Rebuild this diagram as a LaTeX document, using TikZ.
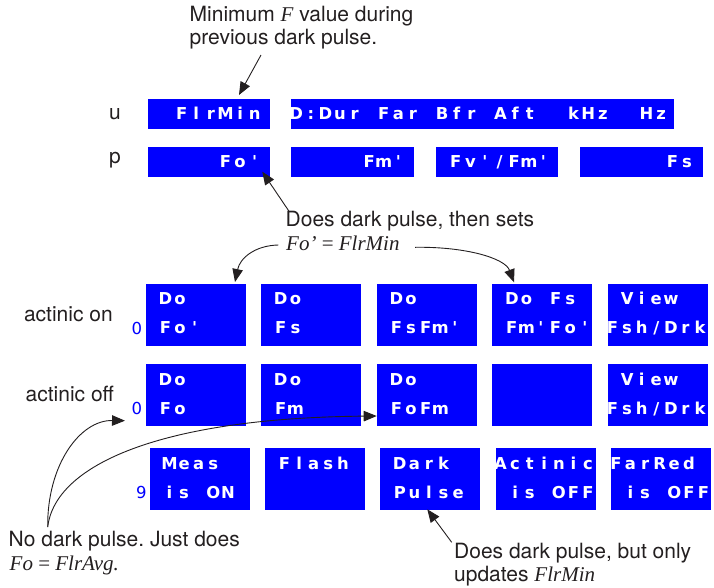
\documentclass[tikz,border=0pt]{standalone}
\usepackage{fontspec}
\setmainfont{TeX Gyre Heros}
\newfontfamily\lcdfam{DejaVu Sans}
\newfontfamily\serifit{Liberation Serif}
\usetikzlibrary{arrows.meta}
\definecolor{lcdblue}{RGB}{0,0,255}
\definecolor{ink}{RGB}{35,31,32}
\newlength\lcdcellw
\setlength\lcdcellw{14.6pt}
\ExplSyntaxOn
\NewDocumentCommand\lcd{m}{
  \str_map_inline:nn {#1}
    { \str_if_eq:nnTF {##1} {_}
        { \hbox_to_wd:nn {\lcdcellw} { } }
        { \hbox_to_wd:nn {\lcdcellw} { \hss ##1 \hss } } }
}
\ExplSyntaxOff
\frenchspacing
\newcommand\lcdfont{\lcdfam\bfseries\fontsize{16.4}{16.4}\selectfont}
\tikzset{
 lcdbox/.style={fill=lcdblue, draw=none, anchor=north west, inner sep=0pt, minimum height=62pt, minimum width=100pt},
 lcdtxt/.style={anchor=base west, inner sep=0pt, text=white, font=\lcdfont},
 ann/.style={anchor=base west, inner sep=0pt, text=ink, font=\fontsize{21}{25}\selectfont},
 digit/.style={anchor=base west, inner sep=0pt, text=lcdblue, font=\lcdfam\fontsize{16.5}{16.5}\selectfont},
 arr/.style={draw=ink, line width=0.9pt, -{Triangle[length=13pt,width=10.5pt]}},
}
\newcommand\rowbox[5]{%
  \node[lcdbox] (#1) at (#2,#3) {};
  \node[lcdtxt] (#1a) at ([shift={(-2.3pt,-21pt)}]#1.north west) {\lcd{#4}};
  \node[lcdtxt] (#1b) at ([shift={(-2.3pt,-50.5pt)}]#1.north west) {\lcd{#5}};
}
\newcommand\upbox[5]{%
  \node[lcdbox, minimum height=30pt, minimum width=#4pt] (#1) at (#2,#3) {};
  \node[lcdtxt] (#1t) at ([shift={(-2.3pt,-20.5pt)}]#1.north west) {\lcd{#5}};
}
\begin{document}
\begin{tikzpicture}[x=1pt,y=-1pt]
\useasboundingbox (0,0) rectangle (714,587);
% top rows
\upbox{u1}{147.3}{99}{122.4}{__FlrMin}
\upbox{u2}{291}{99}{382.7}{D:Dur_Far_Bfr_Aft__kHz__Hz}
\upbox{p1}{147.3}{147}{122.4}{_____Fo'}
\upbox{p2}{291}{147}{123}{_____Fm'}
\upbox{p3}{436}{147}{121.7}{_Fv'/Fm'}
\upbox{p4}{579.7}{147}{123.3}{______Fs}
% actinic on
\rowbox{a1}{145.7}{283.3}{_Do}{_Fo'}
\rowbox{a2}{261}{283.3}{_Do}{_Fs}
\rowbox{a3}{376.7}{283.3}{_Do}{_FsFm'}
\rowbox{a4}{492}{283.3}{_Do_Fs}{_Fm'Fo'}
\rowbox{a5}{607.3}{283.3}{_View}{Fsh/Drk}
% actinic off
\rowbox{b1}{145.7}{364}{_Do}{_Fo}
\rowbox{b2}{261}{364}{_Do}{_Fm}
\rowbox{b3}{376.7}{364}{_Do}{_FoFm}
\node[lcdbox] (b4) at (492,364) {};
\rowbox{b5}{607.3}{364}{_View}{Fsh/Drk}
% third row
\rowbox{c1}{149.7}{448}{_Meas}{_is_ON}
\node[lcdbox] (c2) at (264.7,448) {};
\node[lcdtxt] (c2a) at ([shift={(-2.3pt,-21pt)}]c2.north west) {\lcd{_Flash}};
\rowbox{c3}{380}{448}{_Dark}{_Pulse}
\rowbox{c4}{495.3}{448}{Actinic}{_is_OFF}
\rowbox{c5}{610.7}{448}{FarRed}{_is_OFF}
% labels
\node[ann] (lu) at (108.8,119.3) {u};
\node[ann] (lp) at (108.8,163.5) {p};
\node[ann] (lon) at (23.8,321.7) {actinic on};
\node[ann] (loff) at (25.5,401.7) {actinic off};
\node[digit] (d1) at (131.5,334) {0};
\node[digit] (d2) at (131.5,414.3) {0};
\node[digit] (d3) at (135.8,498.3) {9};
% annotations
\node[ann] (t1a) at (189.5,21.7) {Minimum {\serifit\itshape F} value during};
\node[ann] (t1b) at (189.5,44.3) {previous dark pulse.};
\node[ann] (t2a) at (285.5,226.7) {Does dark pulse, then sets};
\node[ann] (t2b) at (286,250) {\serifit\itshape Fo’ {\upshape =} FlrMin};
\node[ann] (t3a) at (8.5,546.7) {No dark pulse. Just does};
\node[ann] (t3b) at (9.5,570.7) {\serifit\itshape Fo {\upshape =} FlrAvg.};
\node[ann] (t4a) at (454,558.3) {Does dark pulse, but only};
\node[ann] (t4b) at (454,581) {updates {\serifit\itshape FlrMin}};
% arrows
\coordinate (a1s) at (261,55); \coordinate (a1e) at (239,95);
\draw[arr] (a1s) -- (a1e);
\coordinate (a2s) at (289.3,211.7); \coordinate (a2e) at (262.3,171.7);
\draw[arr] (a2s) -- (a2e);
\coordinate (a3s) at (278.3,245); \coordinate (a3e) at (235,282);
\draw[arr] (a3s) .. controls (255,245.5) and (240,258) .. (a3e);
\coordinate (a4s) at (415,247.3); \coordinate (a4e) at (514,282.3);
\draw[arr] (a4s) .. controls (465,246.5) and (505,258) .. (a4e);
\coordinate (a5s) at (47.7,527); \coordinate (a5e) at (125,420.7);
\coordinate (a6e) at (376.7,416);
\draw[arr] (a5s) .. controls (47,465) and (80,420) .. (a5e);
\draw[arr] (a5s) .. controls (55,465) and (160,418) .. (a6e);
\coordinate (a7s) at (451.7,542.3); \coordinate (a7e) at (427.3,509.3);
\draw[arr] (a7s) -- (a7e);
\end{tikzpicture}
\end{document}
